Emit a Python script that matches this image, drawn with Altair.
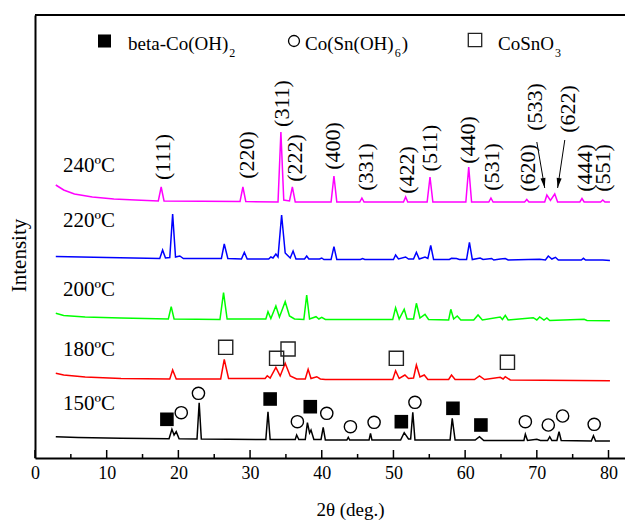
import altair as alt
import pandas as pd

# ---------------- data ----------------
major_ticks = [0, 10, 20, 30, 40, 50, 60, 70, 80]
minor_ticks = [5, 15, 25, 35, 45, 55, 65, 75]

series_names = ["240ºC", "220ºC", "200ºC", "180ºC", "150ºC"]
series_colors = ["#FF00FF", "#0000FF", "#00FF00", "#FF0000", "#000000"]

t240 = [2.9, 4.0, 5.5, 8.0, 11.0, 14.0, 17.2, 17.6, 18.0, 28.6, 29.0, 29.4, 33.9, 34.3, 34.7,
        35.5, 35.9, 36.3, 41.3, 41.7, 42.1, 45.3, 45.6, 45.9, 51.4, 51.7, 52.0, 54.7, 55.1,
        55.5, 60.1, 60.5, 60.9, 63.3, 63.6, 63.9, 68.3, 68.6, 68.9, 71.1, 71.4, 71.9, 72.5,
        72.9, 76.0, 76.3, 76.6, 78.9, 79.2, 79.5, 80.2]
i240 = [273, 268, 264, 261, 259, 258, 257, 271, 257, 256.5, 271, 256.5, 256, 326, 258,
        257, 271, 256, 256, 282, 256, 256, 260, 256, 256, 261, 256, 256, 281,
        256, 256, 291, 256, 256, 260, 256, 256, 258.5, 256, 256, 263, 257.5, 264,
        256, 256, 259.5, 256, 256, 258, 256, 256]

t220 = [2.9, 10.0, 17.4, 17.8, 18.2, 18.8, 19.2, 19.6, 20.2, 20.7, 26.0, 26.4, 26.9, 28.8, 29.2,
        29.6, 32.6, 32.9, 33.2, 33.6, 33.9, 34.4, 34.9, 35.6, 36.0, 36.4, 37.6, 37.9, 38.2,
        39.7, 40.0, 40.3, 41.3, 41.7, 42.1, 45.4, 45.7, 46.0, 50.0, 50.3, 50.7, 51.7, 52.1,
        52.8, 53.2, 53.6, 54.4, 54.8, 55.2, 55.6, 57.8, 58.1, 58.8, 59.2, 60.2, 60.6, 61.0,
        62.1, 62.5, 63.7, 64.0, 64.9, 65.6, 66.0, 68.8, 70.4, 71.2, 71.6, 72.1, 72.6, 73.0,
        76.2, 76.5, 76.8, 79.2, 80.2]
i220 = [201.5, 200.5, 199.5, 208, 200, 200.5, 244, 201, 202, 199.5, 199.5, 214, 199.5, 199, 205.7,
        199, 199, 201, 200, 204, 201, 243, 205, 200, 207, 199, 199, 202, 199,
        199, 200, 198.5, 198.5, 211.3, 198.5, 198.5, 199.5, 198.5, 198.5, 203, 199, 201, 199,
        199, 205.7, 199, 201, 199.5, 212.7, 198.5, 198.5, 199.7, 199.5, 198.5, 198.5, 215.7, 198.5,
        200, 198.5, 199.5, 198, 199, 199.5, 198, 198.5, 198.7, 198, 202, 199, 200.7, 198,
        198, 199.7, 198, 198, 197.5]

t200 = [2.9, 4.0, 7.0, 12.0, 18.6, 19.0, 19.4, 25.8, 26.3, 26.8, 32.2, 32.5, 32.9, 33.6, 34.1,
        34.9, 35.5, 36.2, 37.5, 37.9, 38.3, 39.2, 39.6, 40.0, 40.5, 49.9, 50.3, 50.8, 51.5,
        51.9, 52.8, 53.2, 53.7, 54.4, 54.9, 57.7, 58.0, 58.4, 58.9, 59.4, 61.2, 61.8, 62.4,
        64.9, 65.2, 65.6, 66.0, 69.5, 70.0, 70.4, 71.0, 71.4, 71.8, 76.6, 77.0, 80.2]
i200 = [144.7, 142.5, 141, 140, 139, 151.3, 139, 138.5, 165.3, 139, 139, 146.3, 139.5, 152, 141,
        156.3, 142, 139, 138.5, 163, 139, 141.3, 139, 140.7, 138.5, 138.5, 150.3, 139, 148.7,
        139, 139, 154.7, 140, 143.7, 138.5, 138, 148.7, 139, 142, 138, 138, 143, 138,
        141, 138.5, 142.7, 138, 140.3, 138, 141, 138, 140, 137.5, 138.7, 137.5, 137.3]

t180 = [2.9, 4.0, 7.0, 12.0, 18.8, 19.2, 19.7, 25.9, 26.4, 27.0, 32.1, 32.4, 32.8, 33.6, 34.2,
        34.9, 35.6, 36.5, 37.7, 38.1, 38.5, 39.3, 39.8, 40.5, 49.9, 50.3, 50.8, 51.6, 52.1,
        52.8, 53.2, 53.7, 54.3, 54.8, 57.7, 58.1, 58.6, 61.3, 62.0, 62.7, 64.9, 65.3, 65.6,
        66.3, 80.2]
i180 = [84.7, 83, 81, 79.5, 79, 88, 79, 79, 98.7, 79.5, 79.5, 82.3, 80, 90.7, 82,
        94.7, 82, 79, 79, 88.7, 79.5, 81.3, 79, 78.5, 78.5, 87.3, 79.5, 83, 79.5,
        80, 93, 81, 83, 78.5, 78.5, 83, 78.5, 78.5, 82, 78.5, 80.7, 79, 81.3,
        78, 77.3]

t150 = [2.9, 6.0, 12.0, 18.7, 19.1, 19.4, 19.7, 20.1, 22.6, 22.9, 23.2, 32.2, 32.5, 32.8, 36.3,
        36.5, 36.8, 37.7, 38.0, 38.3, 38.5, 38.9, 39.9, 40.2, 40.5, 43.5, 43.7, 43.9, 46.6,
        46.8, 47.0, 51.0, 51.5, 52.1, 52.4, 52.7, 53.0, 57.9, 58.2, 58.6, 61.4, 62.0, 62.6,
        68.2, 68.4, 68.7, 70.0, 70.5, 71.5, 71.8, 72.1, 72.8, 73.1, 73.4, 77.6, 77.9, 78.2, 80.2]
i150 = [21.3, 20.5, 19.8, 19.3, 28.7, 23, 26.3, 19.3, 19, 55.3, 19, 18.5, 46.3, 18.5, 18.5,
        23, 18.5, 18.5, 35.3, 25, 28, 18.5, 18.5, 30.7, 18, 18, 20.7, 18, 18,
        24.7, 18, 18, 25.3, 19, 19, 45.7, 18, 18, 39.7, 18, 18, 21.3, 17.5,
        17.5, 23.7, 17.5, 18.7, 17.5, 17.5, 21.3, 17.5, 17.5, 26.3, 17.5, 17, 22.3, 17, 17]

# phase markers
beta_t = [18.4, 32.8, 38.4, 51.1, 58.3, 62.2]
beta_i = [38.7, 59, 51.3, 36.3, 49.7, 33]
cosn_t = [20.4, 22.8, 36.6, 40.7, 44.0, 47.3, 53.0, 68.4, 71.6, 73.6, 78.0]
cosn_i = [45.3, 64.7, 36.3, 44.7, 31.3, 35.7, 55.7, 36.3, 33, 42, 33.7]
cso_t = [26.6, 33.7, 35.3, 50.4, 65.9]
cso_i = [110.7, 99.7, 109, 99.7, 95.7]

# hkl labels
hkl_text = ["(111)", "(220)", "(311)", "(222)", "(400)", "(331)", "(422)", "(511)",
            "(440)", "(531)", "(620)", "(533)", "(622)", "(444)", "(551)"]
hkl_t = [17.85, 29.6, 34.45, 36.3, 41.6, 46.2, 51.9, 55.1, 60.4, 63.7, 68.8, 69.7, 74.3, 76.7, 79.2]
hkl_i = [301, 303, 354.5, 300, 312, 291, 288, 310, 318, 291, 290, 351, 349, 290, 290]

# arrows for (533) and (622)
arr_t1 = [70.0, 73.9]
arr_i1 = [316, 318]
arr_t2 = [71.1, 72.9]
arr_i2 = [270, 270]
arr_angle = [350.1, 8.9]

# temperature labels
temp_t = [3.9, 3.9, 3.9, 3.9, 3.9]
temp_i = [286, 231, 162, 102, 48]

# ---------------- build tables ----------------
frames = []
for name, t, i in zip(series_names, [t240, t220, t200, t180, t150], [i240, i220, i200, i180, i150]):
    frames.append(pd.DataFrame({"t": t, "I": i, "series": name}))
traces = pd.concat(frames, ignore_index=True)

ticks = pd.DataFrame({"t": major_ticks + minor_ticks,
                      "y0": 0,
                      "len": [8] * len(major_ticks) + [4] * len(minor_ticks)})
beta_df = pd.DataFrame({"t": beta_t, "I": beta_i})
cosn_df = pd.DataFrame({"t": cosn_t, "I": cosn_i})
cso_df = pd.DataFrame({"t": cso_t, "I": cso_i})
hkl_df = pd.DataFrame({"t": hkl_t, "I": hkl_i, "label": hkl_text})
arr_df = pd.DataFrame({"t1": arr_t1, "i1": arr_i1, "t2": arr_t2, "i2": arr_i2, "ang": arr_angle})
temp_df = pd.DataFrame({"t": temp_t, "I": temp_i, "label": series_names})
one = pd.DataFrame({"k": [0]})

FONT = "Liberation Serif"
W, H = 590, 443
xs = alt.Scale(domain=[0, 82.3], nice=False, zero=False)
ys = alt.Scale(domain=[0, 443], nice=False, zero=False)

x_axis = alt.Axis(values=major_ticks, ticks=False, tickSize=0, grid=False,
                  labelFont=FONT, labelFontSize=18, labelColor="black",
                  labelPadding=6, labelFlush=False, labelOverlap=False,
                  domainColor="black", domainWidth=2,
                  titleFont=FONT, titleFontSize=19, titleFontWeight="normal",
                  titleColor="black", titleBaseline="alphabetic", titleAlign="center",
                  titleX=315, titleY=57)
y_axis = alt.Axis(labels=False, ticks=False, grid=False,
                  domainColor="black", domainWidth=2,
                  titleFont=FONT, titleFontSize=21, titleFontWeight="normal",
                  titleColor="black", titleAngle=270, titleBaseline="middle",
                  titleAlign="center", titleX=-16, titleY=240)


def X(f):
    return alt.X(f, scale=xs, axis=x_axis, title="2θ (deg.)")


def Y(f):
    return alt.Y(f, scale=ys, axis=y_axis, title="Intensity")


lines = alt.Chart(traces).mark_line(strokeWidth=1.5).encode(
    x=X("t:Q"), y=Y("I:Q"),
    color=alt.Color("series:N", scale=alt.Scale(domain=series_names, range=series_colors), legend=None),
    detail="series:N",
)

tick_layer = alt.Chart(ticks).mark_rule(color="black", strokeWidth=1.5).encode(
    x=X("t:Q"), y=Y("y0:Q"), y2="len:Q")

top_frame = alt.Chart(one).mark_rule(color="black", strokeWidth=2).encode(
    x=alt.value(0), x2=alt.value(W), y=alt.value(0))

beta_layer = alt.Chart(beta_df).mark_point(shape="square", filled=True, size=185,
                                           color="black", opacity=1).encode(x=X("t:Q"), y=Y("I:Q"))
cosn_layer = alt.Chart(cosn_df).mark_point(shape="circle", filled=False, size=150,
                                           color="black", strokeWidth=1.4, opacity=1).encode(x=X("t:Q"), y=Y("I:Q"))
cso_layer = alt.Chart(cso_df).mark_point(shape="square", filled=False, size=200,
                                         color="#222222", strokeWidth=1.4, opacity=1).encode(x=X("t:Q"), y=Y("I:Q"))

hkl_layer = alt.Chart(hkl_df).mark_text(font=FONT, fontSize=22, angle=270, align="center",
                                        baseline="middle", color="black").encode(
    x=X("t:Q"), y=Y("I:Q"), text="label:N")

arrow_lines = alt.Chart(arr_df).mark_rule(color="black", strokeWidth=1).encode(
    x=X("t1:Q"), y=Y("i1:Q"), x2="t2:Q", y2="i2:Q")
arrow_heads = alt.Chart(arr_df).mark_point(shape="M0,0L-0.5,-2L0.5,-2Z", filled=True, size=100,
                                           color="black", opacity=1).encode(
    x=X("t2:Q"), y=Y("i2:Q"), angle=alt.Angle("ang:Q", scale=None))

temp_layer = alt.Chart(temp_df).mark_text(font=FONT, fontSize=21, align="left",
                                          baseline="alphabetic", color="black").encode(
    x=X("t:Q"), y=Y("I:Q"), text="label:N")

# legend (placed in plot pixels)
leg_font = 19


def leg_text(txt, x, y, size=leg_font):
    return alt.Chart(one).mark_text(font=FONT, fontSize=size, align="left",
                                    baseline="alphabetic", color="black").encode(
        x=alt.value(x), y=alt.value(y), text=alt.value(txt))


legend_layers = [
    alt.Chart(one).mark_point(shape="square", filled=True, size=170, color="black", opacity=1).encode(
        x=alt.value(69.5), y=alt.value(26)),
    leg_text("beta-Co(OH)", 93, 35),
    leg_text("2", 93 + 5.276 * leg_font + 1, 42, 12),
    alt.Chart(one).mark_point(shape="circle", filled=False, size=120, color="black",
                              strokeWidth=1.3, opacity=1).encode(x=alt.value(259), y=alt.value(26)),
    leg_text("Co(Sn(OH)", 270, 35),
    leg_text("6", 270 + 4.666 * leg_font + 1, 42, 12),
    leg_text(")", 270 + 4.666 * leg_font + 8, 35),
    alt.Chart(one).mark_point(shape="square", filled=False, size=180, color="#222222",
                              strokeWidth=1.3, opacity=1).encode(x=alt.value(440), y=alt.value(25)),
    leg_text("CoSnO", 463, 35),
    leg_text("3", 463 + 2.945 * leg_font + 1, 42, 12),
]

chart = alt.layer(
    lines, tick_layer, top_frame, beta_layer, cosn_layer, cso_layer,
    hkl_layer, arrow_lines, arrow_heads, temp_layer, *legend_layers
).properties(
    width=W, height=H,
    autosize=alt.AutoSizeParams(type="none"),
    padding={"left": 35, "top": 15, "right": 0, "bottom": 62},
).configure_view(stroke=None)

chart.save("out.html", embed_options={"renderer": "svg", "actions": False})
